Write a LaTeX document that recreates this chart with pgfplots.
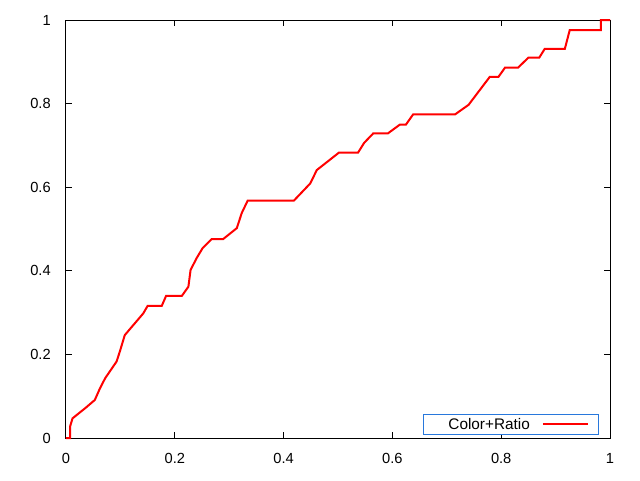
\documentclass[border=0pt]{standalone}
\usepackage{pgfplots}
\pgfplotsset{compat=1.18}
\usepackage{fontspec}
\setmainfont{Liberation Sans}
\definecolor{legblue}{RGB}{40,120,220}
\begin{document}
\begin{tikzpicture}[x=1pt,y=1pt]
\begin{axis}[
  scale only axis,
  width=408pt, height=313.5pt,
  xmin=0, xmax=1, ymin=0, ymax=1,
  xtick={0,0.2,0.4,0.6,0.8,1},
  ytick={0,0.2,0.4,0.6,0.8,1},
  xticklabels={0,0.2,0.4,0.6,0.8,1},
  yticklabels={0,0.2,0.4,0.6,0.8,1},
  tick align=inside,
  major tick length=4.5pt,
  every tick/.style={black, line width=0.75pt},
  axis line style={black, line width=0.75pt},
  /pgf/number format/assume math mode=true,
  tick label style={font=\fontsize{11}{13}\selectfont},
  xticklabel style={inner sep=0pt, yshift=-11.25pt},
  yticklabel style={inner sep=0pt, xshift=-11.25pt},
  clip=false,
  legend plot pos=right,
  legend style={at={(0.9804,0.0072)}, anchor=south east, draw=legblue, line width=0.75pt,
    inner sep=0pt, column sep=9pt,
    font=\fontsize{11.5}{13}\selectfont,
    nodes={inner sep=0pt, text height=11.25pt, text depth=3.75pt, text width=79.5pt, align=right}},
  legend image code/.code={\draw[red, line width=1.5pt] (0pt,0.3pt) -- (33.75pt,0.3pt); \path (41.25pt,0.3pt);},
]
\addplot[red, line width=1.5pt] coordinates {
(0,0) (0.0074,0) (0.0074,0.027) (0.012,0.047) (0.035,0.071) (0.053,0.091) (0.0625,0.119) (0.072,0.143) (0.093,0.183) (0.099,0.207) (0.108,0.246) (0.121,0.266) (0.142,0.298) (0.150,0.316) (0.176,0.316) (0.184,0.340) (0.213,0.340) (0.225,0.362) (0.229,0.402) (0.240,0.430) (0.251,0.454) (0.268,0.476) (0.289,0.476) (0.314,0.502) (0.323,0.538) (0.334,0.568) (0.419,0.568) (0.449,0.609) (0.461,0.641) (0.502,0.683) (0.537,0.683) (0.548,0.706) (0.565,0.729) (0.592,0.729) (0.614,0.750) (0.625,0.750) (0.638,0.774) (0.715,0.774) (0.740,0.797) (0.779,0.864) (0.795,0.864) (0.807,0.886) (0.831,0.886) (0.850,0.910) (0.870,0.910) (0.880,0.931) (0.917,0.931) (0.926,0.976) (0.983,0.976) (0.983,1) (1,1)
};
\addlegendentry{Color+Ratio}
\end{axis}
\useasboundingbox (-49.5pt,-31.5pt) rectangle (430.5pt,328.5pt);
\end{tikzpicture}
\end{document}
